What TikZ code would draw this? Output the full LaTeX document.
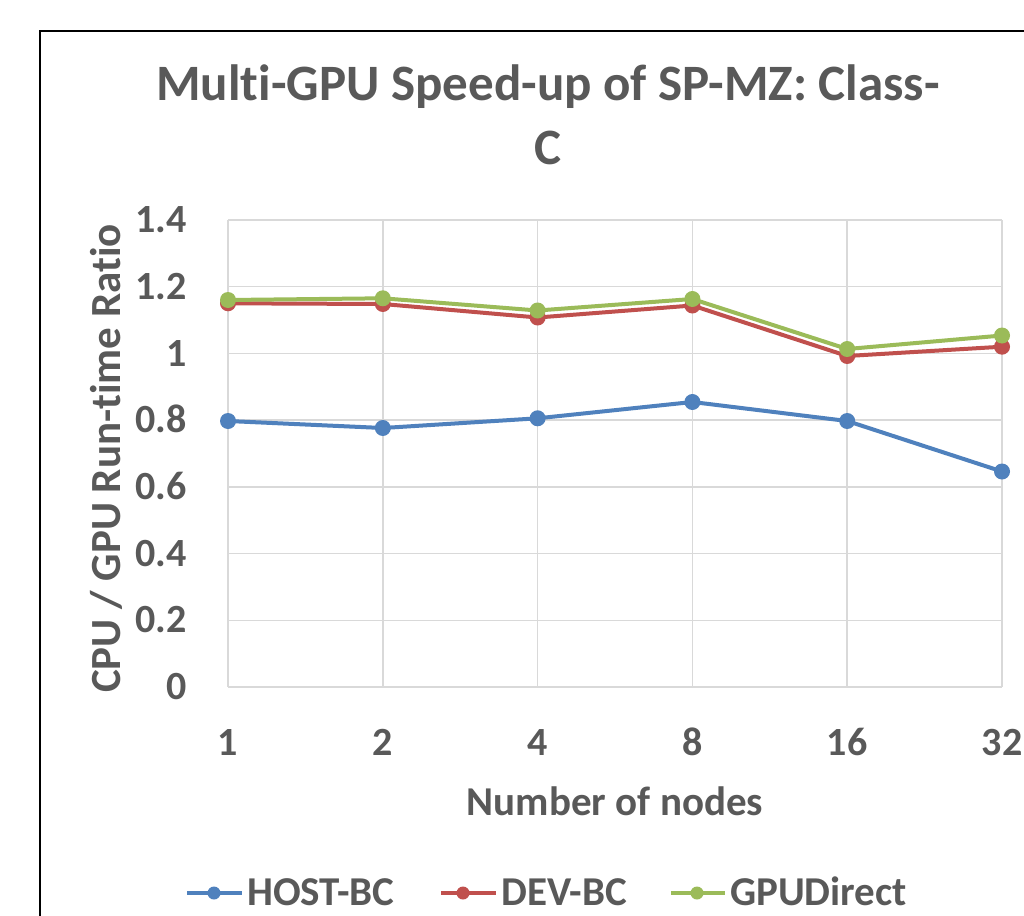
\documentclass[tikz,border=0pt]{standalone}
\usepackage{fontspec}
\setmainfont{Carlito}[RawFeature={-liga;-clig;-calt;-dlig}]
\definecolor{txt}{HTML}{595959}
\definecolor{gridc}{HTML}{D9D9D9}
\definecolor{sblue}{HTML}{4F81BD}
\definecolor{sred}{HTML}{C0504D}
\definecolor{sgreen}{HTML}{9BBB59}
\newcommand{\nolig}{\kern0pt}
\begin{document}
\begin{tikzpicture}[x=1pt,y=-1pt,
  lbl/.style={text=txt, inner sep=0pt, font=\bfseries\fontsize{40}{48}\selectfont},
  leglbl/.style={text=txt, inner sep=0pt, font=\bfseries\fontsize{41}{49}\selectfont},
  ttl/.style={text=txt, inner sep=0pt, font=\bfseries\fontsize{51}{61}\selectfont},
  axttl/.style={text=txt, inner sep=0pt, font=\bfseries\fontsize{41}{49}\selectfont},
  yttl/.style={text=txt, inner sep=0pt, font=\bfseries\fontsize{43}{52}\selectfont},
  gridline/.style={draw=gridc, line width=1.5pt},
  series/.style={line width=4pt, line join=round, line cap=round},
  mk/.style={circle, inner sep=0pt, minimum size=16pt, fill=#1, draw=none},
  legline/.style={line width=3.5pt},
  lmk/.style={circle, inner sep=0pt, minimum size=13pt, fill=#1, draw=none}]
\useasboundingbox (0,0) rectangle (1024,915);
\fill[white] (0,0) rectangle (1024,915);
\begin{scope}
  \clip (0,0) rectangle (1024,915);
  \draw[line width=2pt] (40,31) rectangle (1060,960);
\end{scope}

% title
\node[ttl, anchor=base] (title1) at (548,100) {Mult\nolig i-GPU Speed-up of SP-MZ: Class-};
\node[ttl, anchor=base] (title2) at (548,164) {C};

% grid
\foreach \y in {220,286.71,353.43,420.14,486.86,553.57,620.29,687}
  \draw[gridline] (228,\y) -- (1002,\y);
\foreach \x in {228,382.8,537.6,692.4,847.2,1002}
  \draw[gridline] (\x,220) -- (\x,687);

% y tick labels
\foreach \y/\t in {220/1.4,286.71/1.2,353.43/1,420.14/0.8,486.86/0.6,553.57/0.4,620.29/0.2,687/0}
  \node[lbl, anchor=base east] (yt\t) at (187,\y+12.7) {\t};

% x tick labels
\foreach \x/\t in {228/1,382.8/2,537.6/4,692.4/8,847.2/16,1002/32}
  \node[lbl, anchor=base] (xt\t) at (\x,755) {\t};

% axis titles
\node[axttl, anchor=base] (xtitle) at (615,815) {Number of nodes};
\node[yttl, anchor=base, rotate=90] (ytitle) at (120,458.5) {CPU / GPU Run-t\nolig ime Rat\nolig io};

% data points
\path (228,421) coordinate (h1) (382.8,428) coordinate (h2) (537.6,418.3) coordinate (h3)
      (692.4,402) coordinate (h4) (847.2,421) coordinate (h5) (1002,471.5) coordinate (h6);
\path (228,303.3) coordinate (d1) (382.8,304) coordinate (d2) (537.6,317.5) coordinate (d3)
      (692.4,305.5) coordinate (d4) (847.2,356) coordinate (d5) (1002,346.7) coordinate (d6);
\path (228,300) coordinate (g1) (382.8,298.3) coordinate (g2) (537.6,310.5) coordinate (g3)
      (692.4,299) coordinate (g4) (847.2,349) coordinate (g5) (1002,335.5) coordinate (g6);

\draw[series, sblue] (h1) -- (h2) -- (h3) -- (h4) -- (h5) -- (h6);
\foreach \n in {1,...,6} \node[mk=sblue] (hm\n) at (h\n) {};
\draw[series, sred] (d1) -- (d2) -- (d3) -- (d4) -- (d5) -- (d6);
\foreach \n in {1,...,6} \node[mk=sred] (dm\n) at (d\n) {};
\draw[series, sgreen] (g1) -- (g2) -- (g3) -- (g4) -- (g5) -- (g6);
\foreach \n in {1,...,6} \node[mk=sgreen] (gm\n) at (g\n) {};

% legend
\coordinate (lba) at (187,893); \coordinate (lbb) at (242,893);
\draw[legline, sblue] (lba) -- (lbb);
\node[lmk=sblue] (lbm) at (214,893) {};
\node[leglbl, anchor=base west] (lbt) at (247,905) {HOST-BC};

\coordinate (lra) at (441,893); \coordinate (lrb) at (496,893);
\draw[legline, sred] (lra) -- (lrb);
\node[lmk=sred] (lrm) at (463,893) {};
\node[leglbl, anchor=base west] (lrt) at (501,905) {DEV-BC};

\coordinate (lga) at (671,893); \coordinate (lgb) at (725,893);
\draw[legline, sgreen] (lga) -- (lgb);
\node[lmk=sgreen] (lgm) at (697,893) {};
\node[leglbl, anchor=base west] (lgt) at (730,905) {GPUDirect};
\end{tikzpicture}
\end{document}
